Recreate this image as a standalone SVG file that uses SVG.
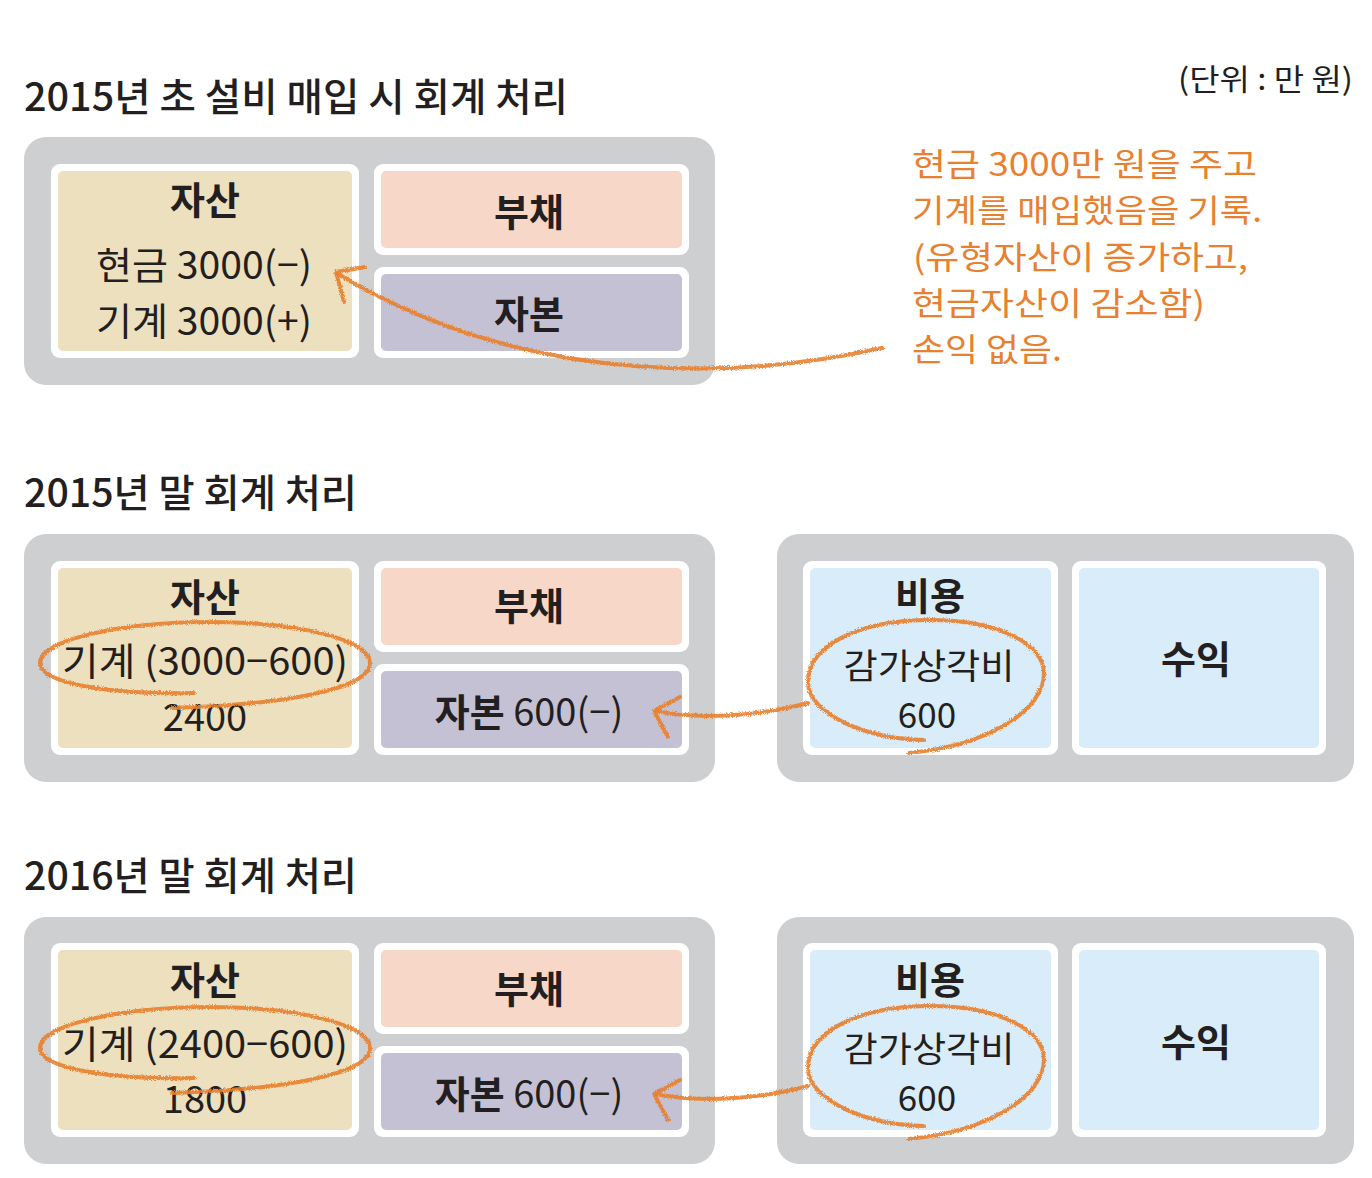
<svg xmlns="http://www.w3.org/2000/svg" width="1372" height="1178" viewBox="0 0 1372 1178">
<defs>
<style>
text{font-family:"Noto Sans CJK KR","Noto Sans",sans-serif;fill:#231f20;}
.title{font-size:39px;font-weight:500;}
.unit{font-size:30px;}
.lbl{font-size:38px;font-weight:700;text-anchor:middle;}
.val{font-size:38px;font-weight:400;text-anchor:middle;}
.val2{font-size:35px;font-weight:400;text-anchor:middle;}
.note{font-size:32px;fill:#e8802f;}
.panel{fill:#cecfd1;}
.frame{fill:#ffffff;}
.asset{fill:#ede0bf;}
.liab{fill:#f7d7c8;}
.equity{fill:#c5c1d4;}
.pl{fill:#d9ecf9;}
.crayon{fill:none;stroke:#e8802f;stroke-width:4;stroke-linecap:round;stroke-linejoin:round;opacity:0.9;filter:url(#rough);}
</style>
<filter id="rough" filterUnits="userSpaceOnUse" x="0" y="0" width="1372" height="1178">
<feTurbulence type="fractalNoise" baseFrequency="0.95" numOctaves="2" seed="4" result="n"/>
<feDisplacementMap in="SourceGraphic" in2="n" scale="4" xChannelSelector="R" yChannelSelector="G"/>
</filter>
</defs>
<rect width="1372" height="1178" fill="#ffffff"/>

<!-- titles -->
<g id="titles">
<text class="title" x="24" y="111" textLength="544" lengthAdjust="spacingAndGlyphs">2015년 초 설비 매입 시 회계 처리</text>
<text class="title" x="24" y="507" textLength="333" lengthAdjust="spacingAndGlyphs">2015년 말 회계 처리</text>
<text class="title" x="24" y="890" textLength="333" lengthAdjust="spacingAndGlyphs">2016년 말 회계 처리</text>
<text class="unit" x="1178" y="90" textLength="175" lengthAdjust="spacingAndGlyphs">(단위 : 만 원)</text>
</g>

<!-- Panel 1 -->
<g id="panel1">
<rect class="panel" x="24" y="137" width="691" height="248" rx="22"/>
<g id="p1-asset">
<rect class="frame" x="51" y="164" width="308" height="194" rx="9"/>
<rect class="asset" x="58" y="171" width="294" height="180" rx="5"/>
<text class="lbl" x="205" y="214">자산</text>
<text class="val" x="204" y="279" textLength="216" lengthAdjust="spacingAndGlyphs">현금 3000(−)</text>
<text class="val" x="204" y="335" textLength="216" lengthAdjust="spacingAndGlyphs">기계 3000(+)</text>
</g>
<g id="p1-liab">
<rect class="frame" x="374" y="164" width="315" height="91" rx="9"/>
<rect class="liab" x="381" y="171" width="301" height="77" rx="5"/>
<text class="lbl" x="529" y="226">부채</text>
</g>
<g id="p1-equity">
<rect class="frame" x="374" y="267" width="315" height="91" rx="9"/>
<rect class="equity" x="381" y="274" width="301" height="77" rx="5"/>
<text class="lbl" x="529" y="328">자본</text>
</g>
</g>

<!-- Panel 2 -->
<g id="panel2">
<rect class="panel" x="24" y="534" width="691" height="248" rx="22"/>
<g id="p2-asset">
<rect class="frame" x="51" y="561" width="308" height="194" rx="9"/>
<rect class="asset" x="58" y="568" width="294" height="180" rx="5"/>
<text class="lbl" x="205" y="611">자산</text>
<text class="val" x="205" y="675" textLength="286" lengthAdjust="spacingAndGlyphs">기계 (3000−600)</text>
<text class="val" x="205" y="731">2400</text>
</g>
<g id="p2-liab">
<rect class="frame" x="374" y="561" width="315" height="91" rx="9"/>
<rect class="liab" x="381" y="568" width="301" height="77" rx="5"/>
<text class="lbl" x="529" y="620">부채</text>
</g>
<g id="p2-equity">
<rect class="frame" x="374" y="664" width="315" height="91" rx="9"/>
<rect class="equity" x="381" y="671" width="301" height="77" rx="5"/>
<text class="val" x="529" y="726"><tspan font-weight="700">자본</tspan> 600(−)</text>
</g>
</g>
<g id="panel2-pl">
<rect class="panel" x="777" y="534" width="577" height="248" rx="22"/>
<g id="p2-expense">
<rect class="frame" x="803" y="561" width="255" height="194" rx="9"/>
<rect class="pl" x="810" y="568" width="241" height="180" rx="5"/>
<text class="lbl" x="930" y="610">비용</text>
<text class="val2" x="929" y="679" textLength="171" lengthAdjust="spacingAndGlyphs">감가상각비</text>
<text class="val2" x="927" y="728">600</text>
</g>
<g id="p2-revenue">
<rect class="frame" x="1072" y="561" width="254" height="194" rx="9"/>
<rect class="pl" x="1079" y="568" width="240" height="180" rx="5"/>
<text class="lbl" x="1196" y="673">수익</text>
</g>
</g>

<!-- Panel 3 -->
<g id="panel3">
<rect class="panel" x="24" y="917" width="691" height="247" rx="22"/>
<g id="p3-asset">
<rect class="frame" x="51" y="943" width="308" height="194" rx="9"/>
<rect class="asset" x="58" y="950" width="294" height="180" rx="5"/>
<text class="lbl" x="205" y="994">자산</text>
<text class="val" x="205" y="1058" textLength="286" lengthAdjust="spacingAndGlyphs">기계 (2400−600)</text>
<text class="val" x="205" y="1113">1800</text>
</g>
<g id="p3-liab">
<rect class="frame" x="374" y="943" width="315" height="91" rx="9"/>
<rect class="liab" x="381" y="950" width="301" height="77" rx="5"/>
<text class="lbl" x="529" y="1003">부채</text>
</g>
<g id="p3-equity">
<rect class="frame" x="374" y="1046" width="315" height="91" rx="9"/>
<rect class="equity" x="381" y="1053" width="301" height="77" rx="5"/>
<text class="val" x="529" y="1108"><tspan font-weight="700">자본</tspan> 600(−)</text>
</g>
</g>
<g id="panel3-pl">
<rect class="panel" x="777" y="917" width="577" height="247" rx="22"/>
<g id="p3-expense">
<rect class="frame" x="803" y="943" width="255" height="194" rx="9"/>
<rect class="pl" x="810" y="950" width="241" height="180" rx="5"/>
<text class="lbl" x="930" y="994">비용</text>
<text class="val2" x="929" y="1062" textLength="171" lengthAdjust="spacingAndGlyphs">감가상각비</text>
<text class="val2" x="927" y="1111">600</text>
</g>
<g id="p3-revenue">
<rect class="frame" x="1072" y="943" width="254" height="194" rx="9"/>
<rect class="pl" x="1079" y="950" width="240" height="180" rx="5"/>
<text class="lbl" x="1196" y="1056">수익</text>
</g>
</g>

<!-- annotation -->
<g id="note">
<text class="note" x="912" y="176" textLength="345" lengthAdjust="spacingAndGlyphs">현금 3000만 원을 주고</text>
<text class="note" x="912" y="222" textLength="350" lengthAdjust="spacingAndGlyphs">기계를 매입했음을 기록.</text>
<text class="note" x="913" y="269" textLength="335" lengthAdjust="spacingAndGlyphs">(유형자산이 증가하고,</text>
<text class="note" x="912" y="315" textLength="293" lengthAdjust="spacingAndGlyphs">현금자산이 감소함)</text>
<text class="note" x="912" y="361" textLength="150" lengthAdjust="spacingAndGlyphs">손익 없음.</text>
</g>

<!-- highlights -->
<g id="highlights">
<path class="crayon" d="M194 693 C120 695 40 685 40 663 C40 640 120 622 210 622 C300 622 370 640 370 663 C370 690 280 705 172 708"/>
<path class="crayon" d="M924 740 C870 740 808 715 808 682 C808 645 860 620 930 620 C1000 620 1044 645 1044 673 C1044 710 990 745 909 753"/>
<path class="crayon" transform="translate(0,385)" d="M194 693 C120 695 40 685 40 663 C40 640 120 622 210 622 C300 622 370 640 370 663 C370 690 280 705 172 708"/>
<path class="crayon" transform="translate(0,386)" d="M924 740 C870 740 808 715 808 682 C808 645 860 620 930 620 C1000 620 1044 645 1044 673 C1044 710 990 745 909 753"/>
</g>

<!-- connectors -->
<g id="connectors">
<path class="crayon" d="M882 348 C760 375 540 395 338 274"/>
<path class="crayon" d="M365 267 L336 272 L344 302"/>
<path class="crayon" d="M808 703 C760 716 700 720 656 711"/>
<path class="crayon" d="M680 697 L654 711 L668 737"/>
<path class="crayon" d="M808 1086 C760 1099 700 1103 656 1094"/>
<path class="crayon" d="M680 1080 L654 1094 L668 1120"/>
</g>
</svg>
